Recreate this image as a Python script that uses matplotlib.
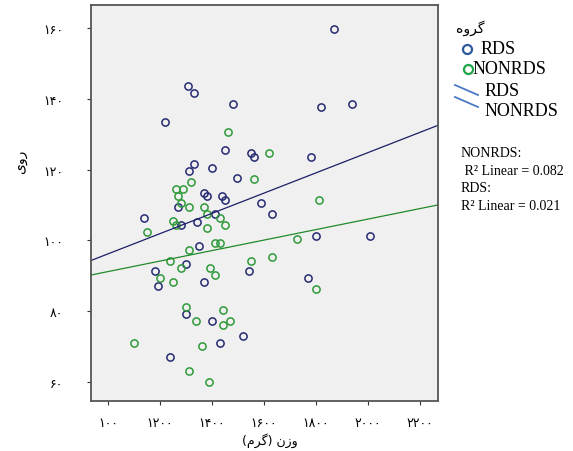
import matplotlib
matplotlib.use("Agg")
import matplotlib.pyplot as plt
from matplotlib.lines import Line2D

# RDS group (weight in g, value)
rds_x = [1870, 1309, 1331, 1480, 1819, 1940, 1220, 1450, 1550, 1561,
         1779, 1331, 1311, 1400, 1498, 1370, 1380, 1440, 1450, 1590,
         1630, 1140, 1270, 1411, 1341, 1281, 1350, 1800, 2009, 1300,
         1181, 1541, 1191, 1371, 1771, 1300, 1400, 1431, 1520, 1240]
rds_y = [159.7, 143.7, 141.6, 138.6, 137.6, 138.6, 133.5, 125.5, 124.6, 123.5,
         123.5, 121.5, 119.5, 120.4, 117.5, 113.5, 112.5, 112.5, 111.3, 110.5,
         107.4, 106.3, 109.4, 107.4, 105.3, 104.3, 98.3, 101.3, 101.3, 93.3,
         91.3, 91.3, 87.2, 88.2, 89.3, 79.1, 77.1, 71.1, 73.1, 67.1]

# NONRDS group
non_x = [1460, 1621, 1561, 1320, 1261, 1290, 1271, 1281, 1311, 1370,
         1380, 1431, 1450, 1250, 1260, 1810, 1150, 1380, 1410, 1431,
         1311, 1728, 1240, 1281, 1391, 1410, 1550, 1630, 1800, 1200,
         1250, 1300, 1441, 1340, 1470, 1441, 1100, 1360, 1311, 1390]
non_y = [130.5, 124.6, 117.4, 116.4, 114.4, 114.4, 112.5, 110.5, 109.4, 109.4,
         107.4, 106.4, 104.4, 105.5, 104.4, 111.3, 102.4, 103.4, 99.3, 99.3,
         97.3, 100.3, 94.3, 92.3, 92.3, 90.2, 94.3, 95.3, 86.3, 89.3,
         88.2, 81.2, 80.2, 77.1, 77.1, 76.2, 71.1, 70.2, 63.1, 60.1]

# fitted lines (ends at the axis limits)
fit_x = [935, 2269]
rds_fit = [94.3, 132.5]
non_fit = [90.2, 110.0]

xticks = [1000, 1200, 1400, 1600, 1800, 2000, 2200]
xlabels = ['۱۰۰', '۱۲۰۰', '۱۴۰۰', '۱۶۰۰', '۱۸۰۰', '۲۰۰۰', '۲۲۰۰']
yticks = [60, 80, 100, 120, 140, 160]
ylabels = ['۶۰', '۸۰', '۱۰۰', '۱۲۰', '۱۴۰', '۱۶۰']

# Persian texts as shaped glyphs in visual (left-to-right) order
x_title = '(\uFEE1\uFEAE\uFB94) \uFEE5\uFEAF\uFEED'   # وزن (گرم)
y_title = '\uFBFC\uFEED\uFEAD'                         # روی
legend_title = '\uFEE9\uFEED\uFEAE\uFB94'              # گروه

navy = '#262a72'
green = '#2f9a3a'
serif = 'Liberation Serif'

W, H = 573, 452
fig = plt.figure(figsize=(W / 100, H / 100), dpi=100)
ax = fig.add_axes([91 / W, 1 - 402 / H, (438 - 91) / W, (402 - 6) / H])
ax.set_facecolor('#f0f0f0')

ax.plot(rds_x, rds_y, ls='none', marker='o', ms=5.2, mfc='none', mec=navy, mew=1.1)
ax.plot(non_x, non_y, ls='none', marker='o', ms=5.2, mfc='none', mec=green, mew=1.1)
ax.plot(fit_x, rds_fit, color='#1c1f66', lw=0.9)
ax.plot(fit_x, non_fit, color='#228a2a', lw=0.9)

ax.set_xlim(935, 2269)
ax.set_ylim(54.6, 166.5)
ax.set_xticks(xticks)
ax.set_xticklabels(xlabels, fontsize=9)
ax.set_yticks(yticks)
ax.set_yticklabels(ylabels, fontsize=9)
ax.tick_params(axis='x', length=3, pad=8, color='#333')
ax.tick_params(axis='y', length=3, pad=17, color='#333')
for s in ax.spines.values():
    s.set_color('#555555')
    s.set_linewidth(1.3)


def fp(x, y):
    return x / W, 1 - y / H


# axis labels
fig.text(*fp(270, 441), x_title, fontsize=9, ha='center', va='center')
fig.text(*fp(20, 162), y_title, rotation=90, fontsize=10, ha='center', va='center')

# legend drawn by hand to the right of the plot
fig.text(*fp(456, 28), legend_title, fontsize=10, ha='left', va='center')
mx, my = fp(466.5, 50)
fig.add_artist(Line2D([mx], [my], marker='o', ms=6.5, mfc='none', mec='#2d5a9e',
                      mew=1.6, transform=fig.transFigure))
fig.text(*fp(481, 50), 'RDS', fontsize=13, family=serif, va='center')
mx, my = fp(468, 70)
fig.add_artist(Line2D([mx], [my], marker='o', ms=6.5, mfc='none', mec='#1fa54a',
                      mew=1.6, transform=fig.transFigure))
fig.text(*fp(473, 70), 'NONRDS', fontsize=13, family=serif, va='center')
for y0, yt, lab in [(86, 91, 'RDS'), (98, 111, 'NONRDS')]:
    x1, y1 = fp(455, y0)
    x2, y2 = fp(478, y0 + 10)
    fig.add_artist(Line2D([x1, x2], [y1, y2], color='#4a78c4', lw=1.3,
                          transform=fig.transFigure))
    fig.text(*fp(485, yt), lab, fontsize=13, family=serif, va='center')

fig.text(*fp(461, 154), 'NONRDS:', fontsize=10, family=serif, va='center')
fig.text(*fp(461, 172), ' R² Linear = 0.082', fontsize=10, family=serif, va='center')
fig.text(*fp(461, 189), 'RDS:', fontsize=10, family=serif, va='center')
fig.text(*fp(461, 207), 'R² Linear = 0.021', fontsize=10, family=serif, va='center')

fig.savefig('out.png', dpi=100)
